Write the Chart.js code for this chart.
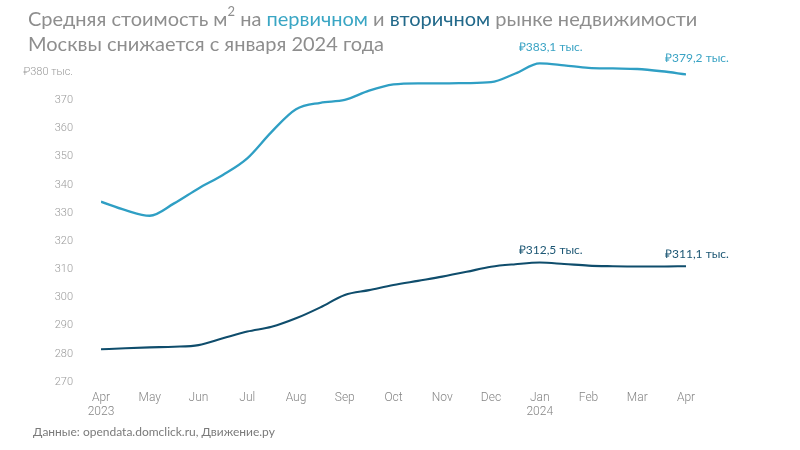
<!DOCTYPE html>
<html lang="ru">
<head>
<meta charset="utf-8">
<title>Средняя стоимость м² в Москве</title>
<script src="https://cdn.jsdelivr.net/npm/chart.js@4.4.0/dist/chart.umd.min.js"></script>
<style>
    html, body { margin: 0; padding: 0; background: #fff; }
    .wrap { position: relative; width: 800px; height: 450px; overflow: hidden; }
    #chart { position: absolute; left: 0; top: 0; }
    .title {
        position: absolute; left: 28px; top: 6px;
        font-family: Lato, sans-serif; font-size: 20px; line-height: 25px;
        color: #8e8e8e; white-space: nowrap;
    }
    .title .prim { color: #3aa6c4; }
    .title .sec { color: #22698a; }
    .title sup { font-size: 13px; line-height: 0; vertical-align: 10px; }
    .source {
        position: absolute; left: 33px; top: 424px;
        font-family: Lato, sans-serif; font-size: 12px; color: #7a7a7a;
    }
</style>
</head>
<body>
<div class="wrap">
    <canvas id="chart" width="800" height="450"></canvas>
    <div class="title">Средняя стоимость м<sup>2</sup> на <span class="prim">первичном</span> и <span class="sec">вторичном</span> рынке недвижимости<br>Москвы снижается с января 2024 года</div>
    <div class="source">Данные: opendata.domclick.ru, Движение.ру</div>
</div>
<script>
// половины месяцев от апреля 2023 (0) до апреля 2024 (12)
const xPos = [0, 0.5, 1, 1.5, 2, 2.5, 3, 3.5, 4, 4.5, 5, 5.5, 6, 6.5, 7, 7.5, 8, 8.5, 9, 9.5, 10, 10.5, 11, 11.5, 12];
const monthLabels = ['Apr', 'May', 'Jun', 'Jul', 'Aug', 'Sep', 'Oct', 'Nov', 'Dec', 'Jan', 'Feb', 'Mar', 'Apr'];
const yearLabels = { 0: '2023', 9: '2024' };

// тыс. руб. за м²
const primary = [334.0, 331.0, 329.0, 333.4, 338.7, 343.5, 349.4, 358.8, 366.8, 369.1, 370.1, 373.4, 375.6,
    376.0, 376.0, 376.1, 376.4, 379.5, 383.1, 382.4, 381.5, 381.3, 381.1, 380.3, 379.2];
const secondary = [281.6, 282.0, 282.3, 282.5, 283.1, 285.5, 287.9, 289.6, 292.6, 296.5, 300.9, 302.6, 304.4,
    305.9, 307.4, 309.1, 310.9, 311.8, 312.4, 311.9, 311.3, 311.1, 311.0, 311.0, 311.1];

// подписи значений: индекс точки и текст
const primaryNotes = [[18, '₽383,1 тыс.'], [24, '₽379,2 тыс.']];
const secondaryNotes = [[18, '₽312,5 тыс.'], [24, '₽311,1 тыс.']];

const PRIMARY_COLOR = '#2f9fc4';
const SECONDARY_COLOR = '#0f4d6c';

const toPoints = (values) => values.map((v, i) => ({ x: xPos[i], y: v }));

// подписи у точек рисуем сами
const notesPlugin = {
    id: 'notes',
    afterDatasetsDraw(chart) {
        const ctx = chart.ctx;
        const xs = chart.scales.x;
        const ys = chart.scales.y;
        const draw = (notes, values, color, dx, dy) => {
            ctx.save();
            ctx.font = '12px Lato, sans-serif';
            ctx.fillStyle = color;
            ctx.textAlign = 'left';
            ctx.textBaseline = 'middle';
            notes.forEach(([i, text]) => {
                ctx.fillText(text, xs.getPixelForValue(xPos[i]) + dx, ys.getPixelForValue(values[i]) + dy);
            });
            ctx.restore();
        };
        draw(primaryNotes, primary, '#3aa3c4', -21, -16);
        draw(secondaryNotes, secondary, '#1d5774', -21, -12);
    }
};

new Chart(document.getElementById('chart'), {
    type: 'line',
    data: {
        datasets: [
            {
                label: 'Первичный рынок',
                data: toPoints(primary),
                borderColor: PRIMARY_COLOR,
                borderWidth: 2.3,
                pointRadius: 0,
                cubicInterpolationMode: 'monotone'
            },
            {
                label: 'Вторичный рынок',
                data: toPoints(secondary),
                borderColor: SECONDARY_COLOR,
                borderWidth: 2.1,
                pointRadius: 0,
                cubicInterpolationMode: 'monotone'
            }
        ]
    },
    options: {
        responsive: false,
        animation: false,
        layout: { padding: { top: 58, right: 114, bottom: 28, left: 0 } },
        plugins: {
            legend: { display: false },
            tooltip: { enabled: false }
        },
        scales: {
            x: {
                type: 'linear',
                min: 0,
                max: 12,
                grid: { display: false },
                border: { display: false },
                afterFit: (scale) => { scale.height = 40; },
                ticks: {
                    stepSize: 1,
                    padding: 1,
                    maxRotation: 0,
                    color: '#858585',
                    font: { family: 'Roboto', size: 12, weight: '300', lineHeight: 1.15 },
                    callback: (v) => yearLabels[v] ? [monthLabels[v], yearLabels[v]] : monthLabels[v]
                }
            },
            y: {
                min: 270,
                max: 385,
                grid: { display: false },
                border: { display: false },
                afterFit: (scale) => { scale.width = 101; },
                afterBuildTicks: (scale) => {
                    scale.ticks = scale.ticks.filter(t => t.value % 10 === 0);
                },
                ticks: {
                    stepSize: 10,
                    padding: 20,
                    color: '#9a9a9a',
                    font: { family: 'Roboto', size: 11, weight: '300' },
                    callback: (v) => v === 380 ? '₽380 тыс.' : v
                }
            }
        }
    },
    plugins: [notesPlugin]
});
</script>
</body>
</html>
